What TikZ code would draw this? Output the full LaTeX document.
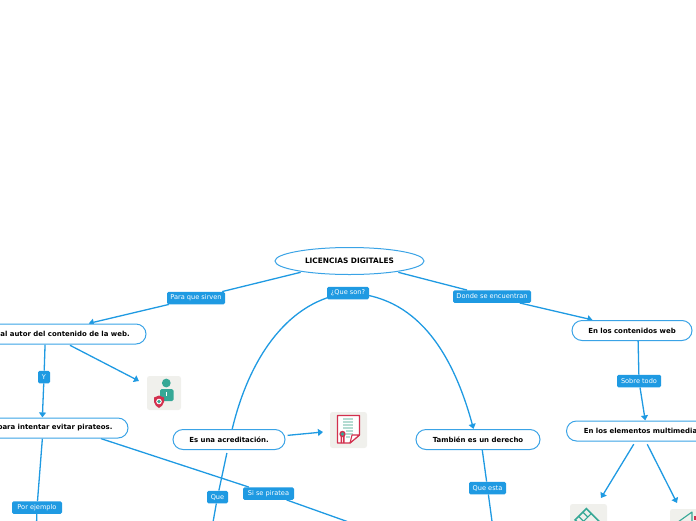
\documentclass[tikz,border=0pt]{standalone}
\usepackage{fontspec}
\setmainfont{DejaVu Sans}
\usetikzlibrary{arrows.meta,shapes.geometric,backgrounds}
\definecolor{mapblue}{HTML}{1F9AE2}
\definecolor{mapedge}{HTML}{3AA3E6}
\definecolor{icobg}{HTML}{F0F0EC}
\definecolor{icoteal}{HTML}{36A896}
\definecolor{icored}{HTML}{D2304E}
\definecolor{icopale}{HTML}{B5DCD2}
\tikzset{
  topic/.style={draw=mapedge,line width=1pt,rounded corners=10pt,fill=white,minimum height=20pt,inner sep=0pt,outer sep=0.6pt,font=\bfseries\fontsize{6.95}{8}\selectfont,text=black},
  rootnode/.style={topic,ellipse,rounded corners=0pt,minimum width=149pt,minimum height=27pt,font=\bfseries\fontsize{7.4}{8}\selectfont},
  tag/.style={fill=mapblue,rounded corners=1.5pt,minimum height=12.5pt,inner sep=0pt,text=white,font=\fontsize{6.6}{8}\selectfont},
  link/.style={draw=mapblue,line width=1.3pt},
  tip/.style={link,-{Triangle[length=5pt,width=7pt]}},
  icoback/.style={fill=icobg,rounded corners=2.5pt,draw=none},
}
\begin{document}
\begin{tikzpicture}[x=1pt,y=-1pt]
\clip (0,0) rectangle (696,520);
% topics
\node[rootnode] (root) at (349.5,261) {LICENCIAS DIGITALES};
\node[topic,minimum width=162pt] (n1) at (65,334) {al autor del contenido de la web.};
\node[topic,minimum width=146pt] (n2) at (55,428) {para intentar evitar pirateos.};
\node[topic,minimum width=112pt] (n3) at (229,439.5) {Es una acreditación.};
\node[topic,minimum width=124pt] (n4) at (478,439.5) {También es un derecho};
\node[topic,minimum width=120pt] (n5) at (632,330.5) {En los contenidos web};
\node[topic,minimum width=148pt] (n6) at (640.5,431) {En los elementos multimedia};
% tags
\node[tag,minimum width=58pt] (t1) at (196,298) {Para que sirven};
\node[tag,minimum width=42pt] (t2) at (348,293) {¿Que son?};
\node[tag,minimum width=78pt] (t3) at (492,296.5) {Donde se encuentran};
\node[tag,minimum width=12pt] (t4) at (44,377) {Y};
\node[tag,minimum width=50pt] (t5) at (37,507.5) {Por ejemplo};
\node[tag,minimum width=21pt] (t6) at (217.5,497) {Que};
\node[tag,minimum width=51pt] (t7) at (268.5,493.5) {Si se piratea};
\node[tag,minimum width=44pt] (t8) at (639,381) {Sobre todo};
\node[tag,minimum width=37pt] (t9) at (487.5,488) {Que esta};
% free ends
\coordinate (e1) at (139,381);
\coordinate (e2) at (323,432);
\coordinate (e3) at (601,498);
\coordinate (e4) at (677,503);
\coordinate (b1) at (36.5,525);
\coordinate (b2) at (212.5,525);
\coordinate (b3) at (357,525);
\coordinate (b4) at (492.5,525);
% icons
\fill[icoback] (147,376) rectangle (181,410);
\fill[icoteal] (166.3,383) circle (4.4);
\fill[icoteal,rounded corners=1.5pt] (160,389) rectangle (173.5,401);
\fill[white] (165.7,392) rectangle (166.9,396);
\path[fill=icored] (154,397.5) -- (159,395.5) -- (164,397.5) -- (164,402) .. controls (163.5,405) and (161,407) .. (159,408) .. controls (157,407) and (154.5,405) .. (154,402) -- cycle;
\fill[white] (159,401.5) circle (2.8);
\fill[icoteal] (159,401.5) circle (1.8);
\fill[icoback] (330,412) rectangle (367,448);
\draw[icored,line width=1.2pt,fill=white,line join=round] (337.5,415.5) -- (359.5,415.5) -- (359.5,435) -- (350,443) -- (337.5,443) -- cycle;
\draw[icopale,line width=1.5pt] (343,419) -- (353,419) (343,422) -- (353,422) (343,425) -- (353,425) (343,428) -- (353,428) (346,431) -- (353,431) (346,434) -- (353,434) (346,437) -- (350,437);
\draw[icored,line width=1.1pt,fill=white,line join=round] (359.5,435) -- (352,435) -- (350,443) -- cycle;
\fill[icored] (340.5,436) rectangle (342,443) (343,436) rectangle (344.5,443);
\fill[icored] (342.5,434) circle (3.2);
\fill[icoteal] (342.5,434) circle (1.9);
\fill[icoback] (570,504) rectangle (607,525);
\begin{scope}[shift={(588.5,522)},rotate=45]
\draw[icoteal,line width=1.6pt] (-8,-11) rectangle (8,11);
\draw[icoteal,line width=1.2pt] (-8,-4) -- (8,-4) (-3,-11) -- (-3,-4) (3,-11) -- (3,-4);
\end{scope}
\fill[icoback] (670,509) rectangle (700,525);
\draw[icoteal,line width=1.1pt,line join=round] (678,522) -- (692,512) -- (692,525);
\fill[icored] (694,516) rectangle (696,520);
% connectors
\begin{scope}[on background layer]
\draw[link,shorten <=1.5pt] (root.193.6) -- (t1);
\draw[tip] (t1) -- (n1.24.7);
\draw[link,shorten <=1.5pt] (root.-13.9) -- (t3);
\draw[tip] (t3) -- (n5.165.5);
\draw[link] (n3.73) .. controls (250,355) and (290,300) .. (t2.center);
\draw[tip] (t2.center) .. controls (415,295) and (452,350) .. (n4.113);
\draw[link,shorten <=3pt] (n3.-98) -- (t6);
\draw[link] (t6) -- (b2);
\draw[tip,shorten <=2pt] (n3.4.4) -- (e2);
\draw[link] (n4.-68) -- (t9);
\draw[link] (t9) -- (b4);
\draw[link] (n1.208.5) -- (t4);
\draw[tip] (t4) -- (n2.140);
\draw[tip,shorten <=1.5pt] (n1.-71.6) -- (e1);
\draw[link] (n2.220) -- (t5);
\draw[link] (t5) -- (b1);
\draw[link] (n2.-13.3) -- (t7);
\draw[link] (t7) -- (b3);
\draw[link] (n5.-60) -- (t8);
\draw[tip] (t8) -- (n6.66);
\draw[tip,shorten <=3pt] (n6.-116.6) -- (e3);
\draw[tip,shorten <=3pt] (n6.-63.4) -- (e4);
\end{scope}
\end{tikzpicture}
\end{document}
